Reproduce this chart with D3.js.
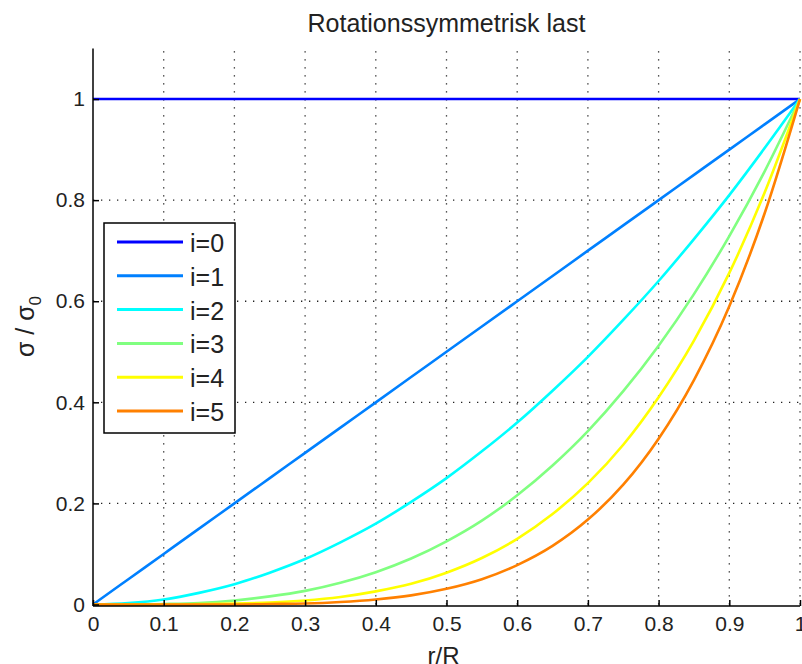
<!DOCTYPE html>
<html>
<head>
<meta charset="utf-8">
<script src="https://cdn.jsdelivr.net/npm/d3@7"></script>
<style>
  body { margin: 0; background: #fff; }
  text { font-family: "Liberation Sans", Arial, sans-serif; fill: #222; }
</style>
</head>
<body>
<div id="chart"></div>
<script>
const rR = [0, 0.05, 0.1, 0.15, 0.2, 0.25, 0.3, 0.35, 0.4, 0.45, 0.5,
            0.55, 0.6, 0.65, 0.7, 0.75, 0.8, 0.85, 0.9, 0.95, 1];
const i0 = [1, 1, 1, 1, 1, 1, 1, 1, 1, 1, 1, 1, 1, 1, 1, 1, 1, 1, 1, 1, 1];
const i1 = [0, 0.05, 0.1, 0.15, 0.2, 0.25, 0.3, 0.35, 0.4, 0.45, 0.5,
            0.55, 0.6, 0.65, 0.7, 0.75, 0.8, 0.85, 0.9, 0.95, 1];
const i2 = [0, 0.003, 0.01, 0.023, 0.04, 0.063, 0.09, 0.123, 0.16, 0.203, 0.25,
            0.303, 0.36, 0.423, 0.49, 0.563, 0.64, 0.723, 0.81, 0.903, 1];
const i3 = [0, 0, 0.001, 0.003, 0.008, 0.016, 0.027, 0.043, 0.064, 0.091, 0.125,
            0.166, 0.216, 0.275, 0.343, 0.422, 0.512, 0.614, 0.729, 0.857, 1];
const i4 = [0, 0, 0, 0.001, 0.002, 0.004, 0.008, 0.015, 0.026, 0.041, 0.063,
            0.092, 0.13, 0.179, 0.24, 0.316, 0.41, 0.522, 0.656, 0.815, 1];
const i5 = [0, 0, 0, 0, 0, 0.001, 0.002, 0.005, 0.01, 0.018, 0.031,
            0.05, 0.078, 0.116, 0.168, 0.237, 0.328, 0.444, 0.59, 0.774, 1];
const seriesNames = ["i=0", "i=1", "i=2", "i=3", "i=4", "i=5"];
const seriesValues = [i0, i1, i2, i3, i4, i5];
const colors = ["#0000ff", "#0080ff", "#00ffff", "#80ff80", "#ffff00", "#ff8000"];
const xTicks = [0, 0.1, 0.2, 0.3, 0.4, 0.5, 0.6, 0.7, 0.8, 0.9, 1];
const yTicks = [0, 0.2, 0.4, 0.6, 0.8, 1];

const W = 802, H = 664;
const margin = {top: 48.5, right: 2, bottom: 60, left: 93};

const svg = d3.select("#chart").append("svg")
    .attr("width", W)
    .attr("height", H);

const x = d3.scaleLinear().domain([0, 1]).range([margin.left, W - margin.right]);
const y = d3.scaleLinear().domain([0, 1.1]).range([H - margin.bottom + 0.5, margin.top]);

// dotted grid
const grid = svg.append("g");
grid.selectAll("line.gx")
    .data(xTicks.filter(d => d > 0))
    .enter().append("line")
    .attr("x1", d => x(d)).attr("x2", d => x(d))
    .attr("y1", y(0)).attr("y2", y(1.1))
    .attr("stroke", "#222").attr("stroke-width", 1.3)
    .attr("stroke-dasharray", "1.3,6.7");
grid.selectAll("line.gy")
    .data(yTicks.filter(d => d > 0))
    .enter().append("line")
    .attr("y1", d => y(d)).attr("y2", d => y(d))
    .attr("x1", x(0)).attr("x2", x(1))
    .attr("stroke", "#222").attr("stroke-width", 1.3)
    .attr("stroke-dasharray", "1.3,6.7");

// curves
const line = d3.line()
    .x((d, k) => x(rR[k]))
    .y(d => y(d))
    .curve(d3.curveMonotoneX);

svg.append("g").selectAll("path")
    .data(seriesValues)
    .enter().append("path")
    .attr("d", d => line(d))
    .attr("fill", "none")
    .attr("stroke", (d, k) => colors[k])
    .attr("stroke-width", 2.6);

// axes
const xAxis = d3.axisBottom(x).tickValues(xTicks).tickSize(-6).tickPadding(10)
    .tickFormat(d3.format("~g"));
const yAxis = d3.axisLeft(y).tickValues(yTicks).tickSize(-6).tickPadding(8)
    .tickFormat(d3.format("~g"));

const gx = svg.append("g")
    .attr("transform", `translate(0,${y(0) + 1.5})`)
    .call(xAxis);
const gy = svg.append("g")
    .attr("transform", `translate(${x(0)},0)`)
    .call(yAxis);

[gx, gy].forEach(g => {
    g.select(".domain").attr("stroke", "#000").attr("stroke-width", 1.5);
    g.selectAll(".tick line").attr("stroke", "#000").attr("stroke-width", 1.5);
    g.selectAll(".tick text")
        .attr("font-family", "Liberation Sans, Arial, sans-serif")
        .attr("font-size", 21).attr("fill", "#222");
});
gx.select(".domain").attr("d", `M${x(0)},0H${x(1)}`);
gy.select(".domain").attr("d", `M0,${y(1.1)}V${y(0) + 1.5}`);

// title and labels
svg.append("text")
    .attr("x", (x(0) + x(1)) / 2).attr("y", 32)
    .attr("text-anchor", "middle")
    .attr("font-size", 25)
    .text("Rotationssymmetrisk last");

svg.append("text")
    .attr("x", (x(0) + x(1)) / 2 - 3).attr("y", 664)
    .attr("text-anchor", "middle")
    .attr("font-size", 24)
    .text("r/R");

const yl = svg.append("text")
    .attr("transform", `translate(34,${y(0.55)}) rotate(-90)`)
    .attr("text-anchor", "middle")
    .attr("font-size", 25);
yl.append("tspan").text("σ / σ");
yl.append("tspan").attr("font-size", 17).attr("dy", 7).text("0");

// legend
const lg = svg.append("g").attr("transform", "translate(104,223)");
lg.append("rect")
    .attr("width", 131).attr("height", 210)
    .attr("fill", "#fff").attr("stroke", "#000").attr("stroke-width", 1.5);
const item = lg.selectAll("g.item")
    .data(seriesNames)
    .enter().append("g")
    .attr("transform", (d, k) => `translate(0,${19 + k * 33.8})`);
item.append("line")
    .attr("x1", 13).attr("x2", 79)
    .attr("stroke", (d, k) => colors[k])
    .attr("stroke-width", 3);
item.append("text")
    .attr("x", 86).attr("y", 10)
    .attr("font-size", 25)
    .text(d => d);
</script>
</body>
</html>
